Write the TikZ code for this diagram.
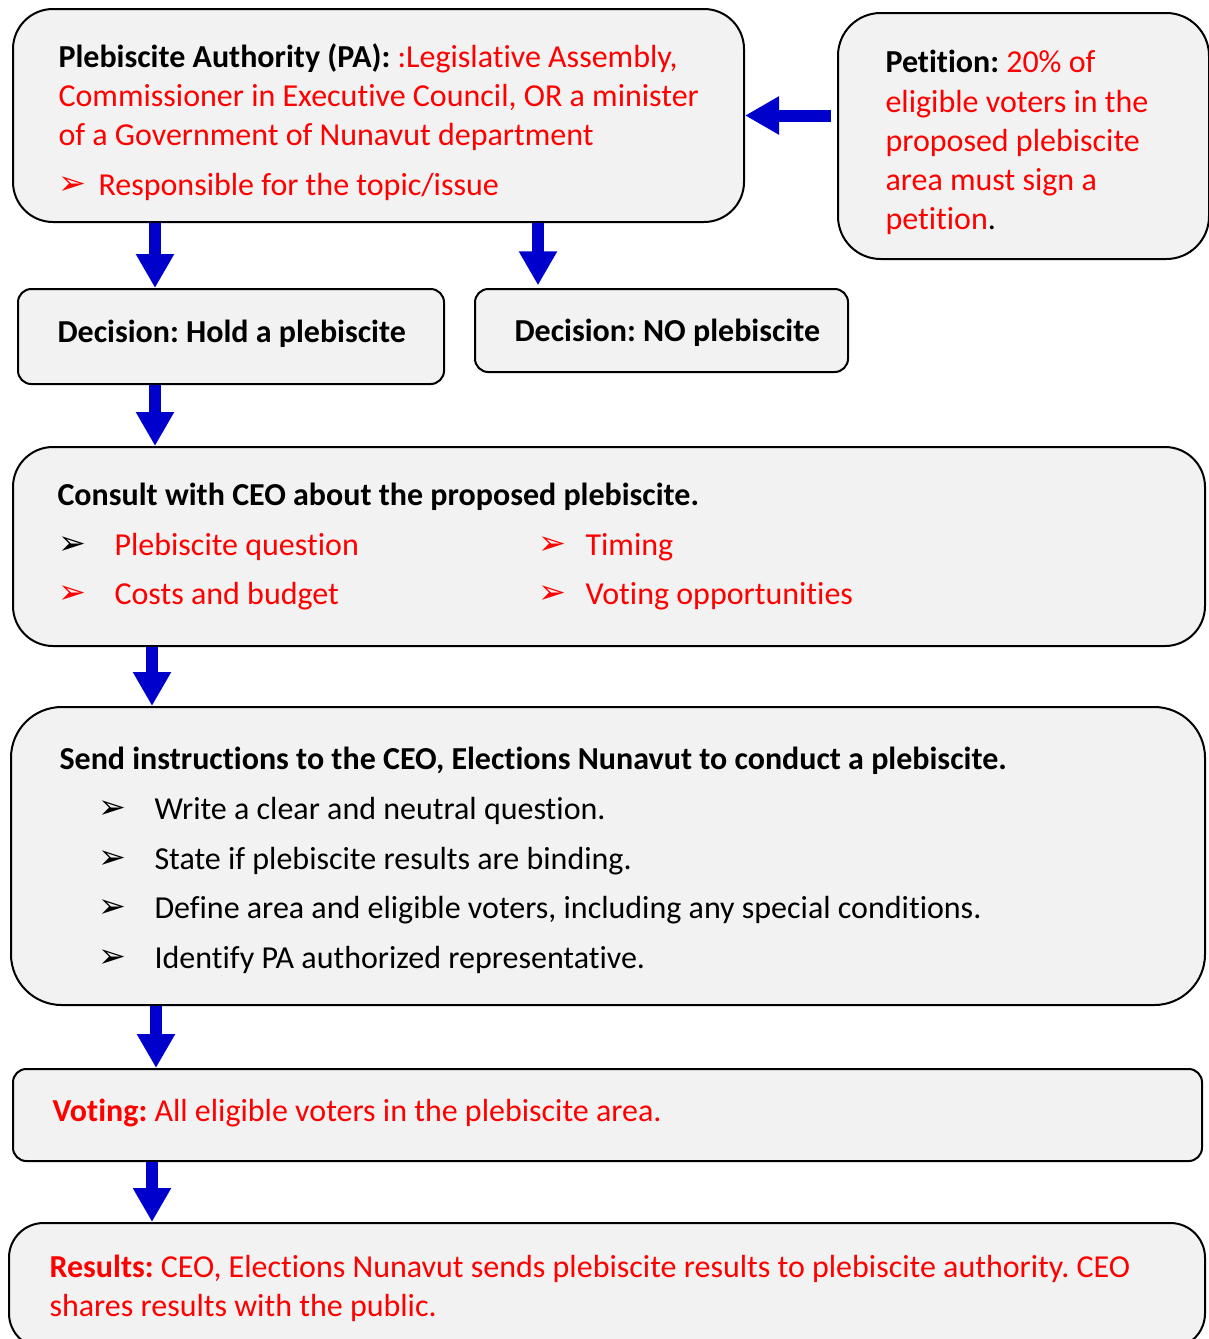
\documentclass[tikz,border=0pt]{standalone}
\usepackage{fontspec}
\setmainfont{Carlito}[Ligatures=NoCommon]
\newfontfamily\dingfont{DejaVu Sans}
\usetikzlibrary{arrows.meta}
\frenchspacing
\definecolor{boxgray}{RGB}{242,242,242}
\definecolor{flowblue}{RGB}{0,0,204}
\definecolor{txtred}{RGB}{255,0,0}
\newcommand{\pu}{0.375pt}
\newcommand{\bul}{{\dingfont\fontsize{12.5}{14}\selectfont ➢}}

\begin{document}
\begin{tikzpicture}[x=0.375pt, y=-0.375pt,
  box/.style={draw=black, line width=0.75pt, fill=boxgray, anchor=north west, inner sep=0pt},
  txt/.style={anchor=base west, inner sep=0pt, font=\fontsize{12}{14.6}\selectfont},
  red/.style={txt, text=txtred},
  flow/.style={-{Triangle[width=13.5pt,length=12.75pt]}, line width=4.5pt, flowblue}
]
\useasboundingbox (0,0) rectangle (1209,1339);

% Boxes
\node[box, rounded corners=15pt, minimum width=731*\pu, minimum height=213*\pu] (pa) at (12,8) {};
\node[box, rounded corners=16pt, minimum width=371*\pu, minimum height=246*\pu] (pet) at (837,12) {};
\node[box, rounded corners=5pt, minimum width=426*\pu, minimum height=95*\pu] (hold) at (17,288) {};
\node[box, rounded corners=5pt, minimum width=373*\pu, minimum height=83*\pu] (nopl) at (474,288) {};
\node[box, rounded corners=15pt, minimum width=1192*\pu, minimum height=199*\pu] (cons) at (12,446) {};
\node[box, rounded corners=19pt, minimum width=1194*\pu, minimum height=298*\pu] (send) at (10,706) {};
\node[box, rounded corners=5pt, minimum width=1189*\pu, minimum height=92*\pu] (vote) at (12,1068) {};
\node[box, rounded corners=13pt, minimum width=1196*\pu, minimum height=125*\pu] (res) at (8,1222) {};

% Arrows
\draw[flow] ([xshift=-2.25pt]pet.west |- pa.east) -- (pa.east);
\draw[flow] (pa.south -| 155,0) -- (hold.north -| 155,0);
\draw[flow] (pa.south -| 538,0) -- ([yshift=1pt]nopl.north -| 538,0);
\draw[flow] (hold.south -| 155,0) -- (cons.north -| 155,0);
\draw[flow] (cons.south -| 152,0) -- (send.north -| 152,0);
\draw[flow] (send.south -| 156,0) -- (vote.north -| 156,0);
\draw[flow] (vote.south -| 152,0) -- (res.north -| 152,0);

% Plebiscite authority
\node[txt] (pa1) at (58,67) {\textbf{Plebiscite Authority (PA):} \textcolor{txtred}{:Legislative Assembly,}};
\node[red] (pa2) at (58,106) {Commissioner in Executive Council, OR a minister};
\node[red] (pa3) at (58,145) {of a Government of Nunavut department};
\node[red] (pab) at (58,194) {\bul};
\node[red] (pa4) at (98,195) {Responsible for the topic/issue};

% Petition
\node[txt] (pe1) at (885,72) {\textbf{Petition:} \textcolor{txtred}{20\% of}};
\node[red] (pe2) at (885,112) {eligible voters in the};
\node[red] (pe3) at (885,151) {proposed plebiscite};
\node[red] (pe4) at (885,190) {area must sign a};
\node[txt] (pe5) at (885,229) {\textcolor{txtred}{petition}.};

% Decisions
\node[txt] (ho1) at (57,342) {\textbf{Decision: Hold a plebiscite}};
\node[txt] (no1) at (514,341) {\textbf{Decision: NO plebiscite}};

% Consult
\node[txt] (co1) at (57,505) {\textbf{Consult with CEO about the proposed plebiscite.}};
\node[txt] (cob1) at (58,554) {\bul};
\node[red] (co2) at (114,555) {Plebiscite question};
\node[red] (cob2) at (58,603) {\bul};
\node[red] (co3) at (114,604) {Costs and budget};
\node[red] (cob3) at (538,554) {\bul};
\node[red] (co4) at (585,555) {Timing};
\node[red] (cob4) at (538,603) {\bul};
\node[red] (co5) at (585,604) {Voting opportunities};

% Send instructions
\node[txt] (se0) at (59,769) {\textbf{Send instructions to the CEO, Elections Nunavut to conduct a plebiscite.}};
\foreach \y/\t [count=\i] in {819/{Write a clear and neutral question.},
  869/{State if plebiscite results are binding.},
  918/{Define area and eligible voters, including any special conditions.},
  968/{Identify PA authorized representative.}}{
  \node[txt] (seb\i) at (98,\y-1) {\bul};
  \node[txt] (se\i) at (154,\y) {\t};
}

% Voting and results
\node[red] (vo1) at (52,1121) {\textbf{Voting:} All eligible voters in the plebiscite area.};
\node[red] (re1) at (49,1277) {\textbf{Results:} CEO, Elections Nunavut sends plebiscite results to plebiscite authority. CEO};
\node[red] (re2) at (49,1316) {shares results with the public.};
\end{tikzpicture}
\end{document}
